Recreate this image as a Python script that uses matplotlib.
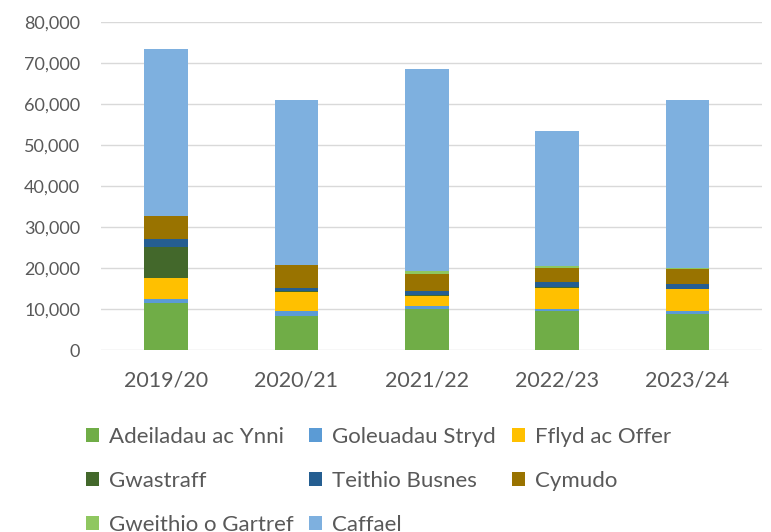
import matplotlib.pyplot as plt
from matplotlib.ticker import FuncFormatter
from matplotlib.patches import Patch

years = ["2019/20", "2020/21", "2021/22", "2022/23", "2023/24"]

adeiladau = [11400, 8400, 9900, 9400, 8900]
goleuadau = [1100, 1150, 900, 500, 550]
fflyd = [5050, 4700, 2400, 5300, 5350]
gwastraff = [7500, 200, 200, 150, 150]
teithio = [1950, 700, 1100, 1150, 1150]
cymudo = [5600, 5600, 4000, 3600, 3650]
gweithio = [0, 100, 800, 500, 350]
caffael = [40800, 40000, 49300, 32800, 40900]

series = [
    ("Adeiladau ac Ynni", adeiladau, "#70AD47"),
    ("Goleuadau Stryd", goleuadau, "#5B9BD5"),
    ("Fflyd ac Offer", fflyd, "#FFC000"),
    ("Gwastraff", gwastraff, "#43682B"),
    ("Teithio Busnes", teithio, "#255E91"),
    ("Cymudo", cymudo, "#997300"),
    ("Gweithio o Gartref", gweithio, "#8FC760"),
    ("Caffael", caffael, "#7EB0DF"),
]

plt.rcParams['font.family'] = ['Lato', 'DejaVu Sans']

fig = plt.figure(figsize=(7.71, 5.32), dpi=100)
ax = fig.add_axes([0.131, 0.342, 0.857, 0.617])

x = range(len(years))
bottom = [0] * len(years)
handles = {}
for name, vals, color in series:
    ax.bar(x, vals, 0.335, bottom=bottom, color=color, zorder=3)
    bottom = [b + v for b, v in zip(bottom, vals)]
    handles[name] = Patch(facecolor=color, label=name)

ax.set_ylim(0, 80000)
ax.set_xlim(-0.5, 4.57)
ax.set_yticks(range(0, 80001, 10000))
ax.yaxis.set_major_formatter(FuncFormatter(lambda v, p: f"{int(v):,}"))
ax.set_xticks(list(x))
ax.set_xticklabels(years)
ax.grid(axis="y", color="#D9D9D9", linewidth=1, zorder=0)
for s in ax.spines.values():
    s.set_visible(False)
ax.tick_params(axis="both", length=0, colors="#595959")
ax.tick_params(axis="y", labelsize=13, pad=15)
ax.tick_params(axis="x", labelsize=15.5, pad=15)

# legend in row order as in the original (matplotlib fills columns first)
order = ["Adeiladau ac Ynni", "Gwastraff", "Gweithio o Gartref",
         "Goleuadau Stryd", "Teithio Busnes", "Caffael",
         "Fflyd ac Offer", "Cymudo"]
fig.legend(handles=[handles[n] for n in order], ncol=3, frameon=False,
           loc="upper left", bbox_to_anchor=(0.111, 0.197),
           fontsize=16, labelcolor="#595959",
           handlelength=0.6, handleheight=0.6, handletextpad=0.45,
           columnspacing=0.7, labelspacing=1.07, borderaxespad=0,
           borderpad=0)

fig.savefig("out.png", dpi=100)
